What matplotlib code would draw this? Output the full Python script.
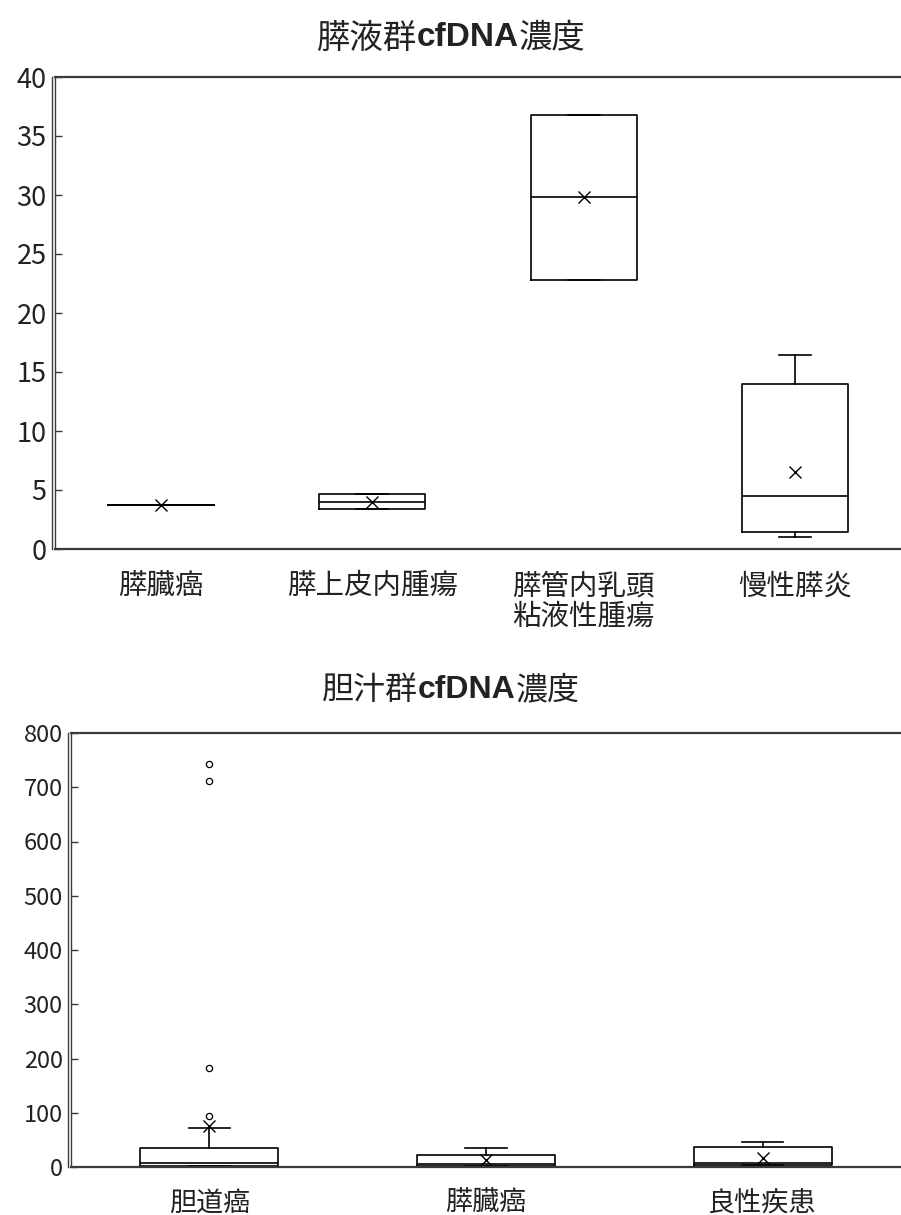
import matplotlib
matplotlib.use("Agg")
import matplotlib.pyplot as plt
import matplotlib.transforms as mtransforms
from matplotlib.lines import Line2D

plt.rcParams['font.family'] = ['Noto Sans CJK JP', 'DejaVu Sans']

# ---------------- data ----------------
pan_title = ('膵液群', 'cfDNA', '濃度')
pan_labels = ['膵臓癌', '膵上皮内腫瘍', '膵管内乳頭\n粘液性腫瘍', '慢性膵炎']
pan_whislo = [3.7, 3.4, 22.8, 1.0]
pan_q1 = [3.7, 3.4, 22.8, 1.4]
pan_med = [3.7, 4.0, 29.8, 4.5]
pan_q3 = [3.7, 4.66, 36.8, 14.0]
pan_whishi = [3.7, 4.66, 36.8, 16.4]
pan_mean = [3.7, 4.0, 29.8, 6.5]
pan_fliers = [[], [], [], []]
pan_yticks = [0, 5, 10, 15, 20, 25, 30, 35, 40]

bile_title = ('胆汁群', 'cfDNA', '濃度')
bile_labels = ['胆道癌', '膵臓癌', '良性疾患']
bile_whislo = [2, 2, 4]
bile_q1 = [2, 2, 4]
bile_med = [7, 5, 7]
bile_q3 = [35, 22, 37]
bile_whishi = [72, 35, 46]
bile_mean = [76, 13, 17]
bile_fliers = [[743, 711, 182, 94], [], []]
bile_yticks = [0, 100, 200, 300, 400, 500, 600, 700, 800]

W, H = 901, 1215
fig = plt.figure(figsize=(W / 100, H / 100), dpi=100)

spine_col = '#3a3a3a'


def make_stats(labels, wlo, q1, med, q3, whi, mean, fliers):
    return [dict(label=l, whislo=a, q1=b, med=c, q3=d, whishi=e, mean=m, fliers=f)
            for l, a, b, c, d, e, m, f in zip(labels, wlo, q1, med, q3, whi, mean, fliers)]


def draw(ax, stats, yticks, ylim, ysize, xsize, xpad):
    n = len(stats)
    ax.bxp(stats, positions=range(1, n + 1), widths=0.5, showmeans=True,
           capwidths=0.15,
           boxprops=dict(color='black', linewidth=1.2),
           whiskerprops=dict(color='black', linewidth=1.2),
           capprops=dict(color='black', linewidth=1.2),
           medianprops=dict(color='black', linewidth=1.2),
           meanprops=dict(marker='x', markeredgecolor='black', markersize=8,
                          markeredgewidth=1.0, linestyle='none'),
           flierprops=dict(marker='o', markerfacecolor='none', markeredgecolor='black',
                           markersize=4.5, markeredgewidth=0.9))
    ax.set_xlim(0.5, n + 0.5)
    ax.set_ylim(*ylim)
    ax.set_yticks(yticks)
    ax.tick_params(axis='y', direction='in', length=5, width=1, color=spine_col,
                   labelsize=ysize, labelcolor='#222222', pad=6)
    ax.tick_params(axis='x', length=0, labelsize=xsize, labelcolor='#222222', pad=xpad)
    ax.spines['right'].set_visible(False)
    for s in ('top', 'bottom', 'left'):
        ax.spines[s].set_color(spine_col)
        ax.spines[s].set_linewidth(1.6)
    ax.spines['left'].set_linewidth(1.0)
    off = mtransforms.ScaledTranslation(-3 / 100, 0, fig.dpi_scale_trans)
    ax.add_line(Line2D([0, 0], [0, 1], transform=ax.transAxes + off, color=spine_col,
                       linewidth=1.0, clip_on=False))
    for lab in ax.get_xticklabels():
        lab.set_linespacing(1.05)


def title(parts, ycenter_px, size):
    fig.canvas.draw()
    r = fig.canvas.get_renderer()
    texts = []
    weights = ['normal', 'bold', 'normal']
    for p, w in zip(parts, weights):
        fam = ['Noto Sans CJK JP', 'DejaVu Sans'] if w == 'normal' else ['Liberation Sans', 'DejaVu Sans']
        t = fig.text(0, 1 - ycenter_px / H, p, fontsize=size, fontweight=w, va='center',
                     ha='left', color='#222222', family=fam)
        texts.append(t)
    widths = [t.get_window_extent(r).width for t in texts]
    total = sum(widths)
    x = 451 - total / 2
    for t, w in zip(texts, widths):
        t.set_x(x / W)
        x += w


ax1 = fig.add_axes([55 / W, 1 - 549 / H, (W - 55) / W, (549 - 77) / H])
draw(ax1, make_stats(pan_labels, pan_whislo, pan_q1, pan_med, pan_q3, pan_whishi, pan_mean, pan_fliers),
     pan_yticks, (0, 40), 19.5, 20.5, 16)

ax2 = fig.add_axes([71 / W, 1 - 1167 / H, (W - 71) / W, (1167 - 733) / H])
draw(ax2, make_stats(bile_labels, bile_whislo, bile_q1, bile_med, bile_q3, bile_whishi, bile_mean, bile_fliers),
     bile_yticks, (0, 800), 17, 19.5, 16)

title(pan_title, 38, 24)
title(bile_title, 690, 23)

fig.savefig('out.png', dpi=100, facecolor='white')
